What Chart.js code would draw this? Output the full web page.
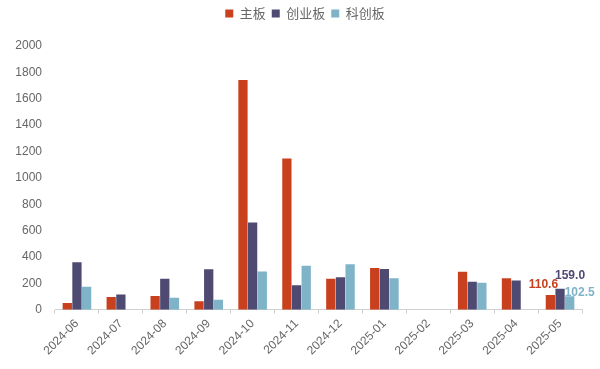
<!DOCTYPE html>
<html><head><meta charset="utf-8">
<script src="https://cdn.jsdelivr.net/npm/chart.js@4.4.1/dist/chart.umd.min.js"></script>
<style>html,body{margin:0;padding:0;background:#fff}#wrap{width:600px;height:369px;position:relative}</style>
</head><body><div id="wrap"><canvas id="c"></canvas></div>
<script>
const categories = ['2024-06','2024-07','2024-08','2024-09','2024-10','2024-11','2024-12','2025-01','2025-02','2025-03','2025-04','2025-05'];
const mainBoard = [50, 96, 103, 63, 1742, 1146, 234, 317, null, 287, 239, 110.6];
const chinext   = [360, 116, 234, 307, 661, 186, 246, 309, null, 211, 221, 159.0];
const star      = [173, null, 90, 75, 289, 334, 344, 239, null, 204, null, 102.5];
const seriesNames = ['主板','创业板','科创板'];
const colors = ['#C8401E','#4F4A72','#7EB3C8'];
const yTicks = [0,200,400,600,800,1000,1200,1400,1600,1800,2000];

const font = '"Liberation Sans","Noto Sans CJK SC",sans-serif';
const lastLabels = {
  id:'lastLabels',
  afterDatasetsDraw(chart){
    const ctx = chart.ctx;
    const n = categories.length-1;
    ctx.save();
    ctx.font = 'bold 12px ' + font;
    ctx.textAlign = 'center'; ctx.textBaseline = 'middle';
    chart.data.datasets.forEach((ds,i)=>{
      const el = chart.getDatasetMeta(i).data[n];
      const v = ds.data[n];
      if(v==null) return;
      ctx.fillStyle = colors[i];
      let x = el.x, y = el.y;
      if(i===0){ x = el.x - 7; y = el.y - 10; }
      if(i===1){ x = el.x + 10; y = el.y - 13; }
      if(i===2){ x = el.x + 10; y = el.y - 3; }
      ctx.fillText(v.toFixed(1), x, y);
    });
    ctx.restore();
  }
};
const legendMargin = {
  id:'legendMargin',
  beforeInit(chart){
    const orig = chart.legend.fit;
    chart.legend.fit = function(){ orig.bind(chart.legend)(); this.height += 16; };
  }
};

new Chart(document.getElementById('c'),{
  type:'bar',
  data:{
    labels:categories,
    datasets:[mainBoard,chinext,star].map((d,i)=>({
      label:seriesNames[i], data:d, backgroundColor:colors[i],
      categoryPercentage:0.66, barPercentage:0.96
    }))
  },
  options:{
    responsive:true, maintainAspectRatio:false, animation:false,
    layout:{padding:{left:10,right:0,top:1,bottom:8}},
    plugins:{
      legend:{position:'top',labels:{boxWidth:8,boxHeight:8,padding:6,color:'#666',font:{family:'"Noto Sans CJK SC",sans-serif',size:13}}},
      tooltip:{enabled:false}
    },
    scales:{
      x:{
        afterFit(s){ s.paddingRight = 18; },
        grid:{display:true,drawOnChartArea:false,offset:true,tickLength:4,color:'#d0d0d0'},
        border:{color:'#d0d0d0'},
        ticks:{color:'#666',font:{family:font,size:12},maxRotation:45,minRotation:45,autoSkip:false}
      },
      y:{
        min:0,max:2000,
        afterBuildTicks(s){ s.ticks = yTicks.map(v=>({value:v})); },
        afterFit(s){ s.width = 45; },
        grid:{display:false},
        border:{display:false},
        ticks:{color:'#666',font:{family:font,size:12},padding:5,callback:v=>String(v)}
      }
    }
  },
  plugins:[lastLabels,legendMargin]
});
</script></body></html>
